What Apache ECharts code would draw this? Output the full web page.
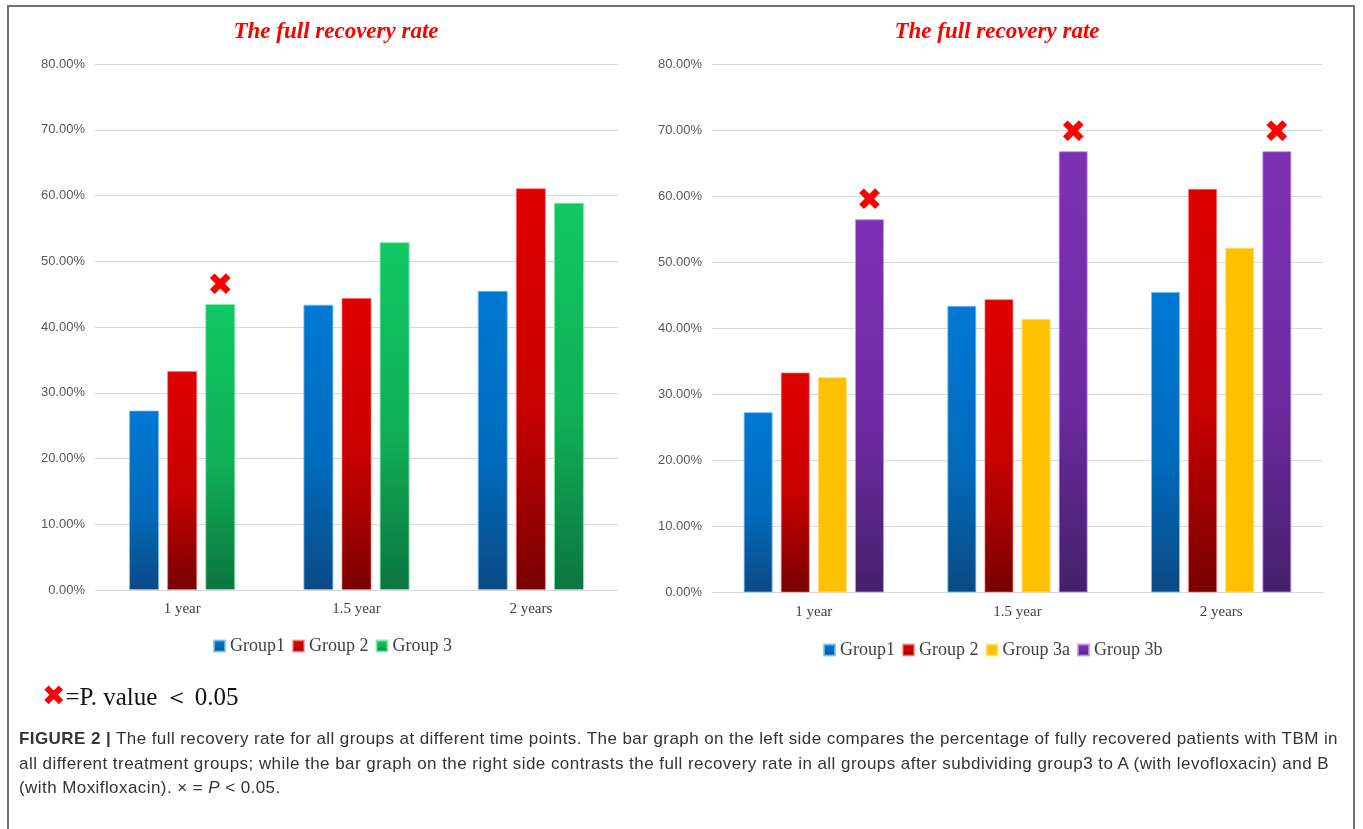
<!DOCTYPE html>
<html>
<head>
<meta charset="utf-8">
<script src="https://cdn.jsdelivr.net/npm/echarts@6/dist/echarts.min.js"></script>
<style>
  html, body { margin: 0; padding: 0; background: #fff; }
  #wrap { position: relative; width: 1363px; height: 829px; overflow: hidden; }
  #frame { position: absolute; left: 7px; top: 5px; width: 1348px; height: 840px; border: 2px solid #707070; box-sizing: border-box; }
  #chart { position: absolute; left: 0; top: 0; width: 1363px; height: 829px; }
  #note { position: absolute; left: 42px; top: 680px; font-family: 'Liberation Serif', serif; font-size: 25px; color: #111; white-space: nowrap; line-height: 32px; }
  #note .x { font-family: 'DejaVu Sans', sans-serif; color: #ff0000; font-size: 28px; }
  #caption { position: absolute; left: 19px; top: 727px; font-family: 'Liberation Sans', Arial, sans-serif; font-size: 17px; color: #333; line-height: 24.5px; white-space: nowrap; }
  #caption div { display: inline-block; }
</style>
</head>
<body>
<div id="wrap">
  <div id="frame"></div>
  <div id="chart"></div>
  <div id="note"><span class="x">✖</span>=P. value ＜ 0.05</div>
  <div id="caption">
    <div id="l1"><b>FIGURE 2 |</b> The full recovery rate for all groups at different time points. The bar graph on the left side compares the percentage of fully recovered patients with TBM in</div><br>
    <div id="l2">all different treatment groups; while the bar graph on the right side contrasts the full recovery rate in all groups after subdividing group3 to A (with levofloxacin) and B</div><br>
    <div id="l3">(with Moxifloxacin). × = <i>P</i> &lt; 0.05.</div>
  </div>
</div>
<script>
// ---- data ----
const chartTitle = 'The full recovery rate';
const categories = ['1 year', '1.5 year', '2 years'];
const yTicks = { min: 0, max: 80, interval: 10 };

const leftNames = ['Group1', 'Group 2', 'Group 3'];
const leftGroup1 = [27.3, 43.4, 45.5];
const leftGroup2 = [33.3, 44.4, 61.1];
const leftGroup3 = [43.5, 52.9, 58.9];
const leftSig3 = [true, false, false];

const rightNames = ['Group1', 'Group 2', 'Group 3a', 'Group 3b'];
const rightGroup1 = [27.3, 43.4, 45.5];
const rightGroup2 = [33.3, 44.4, 61.1];
const rightGroup3a = [32.6, 41.4, 52.2];
const rightGroup3b = [56.5, 66.8, 66.8];
const rightSig3b = [true, true, true];

// ---- caption fitting (line widths as in the figure) ----
(function fitCaption() {
  const targets = { l1: 1319, l2: 1310 };
  let ls = 0;
  ['l1', 'l2'].forEach(id => {
    const el = document.getElementById(id);
    const w = el.getBoundingClientRect().width;
    const n = el.textContent.length;
    const s = (targets[id] - w) / n;
    el.style.letterSpacing = s + 'px';
    if (id === 'l1') ls = s;
  });
  document.getElementById('l3').style.letterSpacing = ls + 'px';
})();

// ---- styles ----
const grad = (top, mid, bot) => new echarts.graphic.LinearGradient(0, 0, 0, 1, [
  { offset: 0, color: top }, { offset: 0.55, color: mid }, { offset: 1, color: bot }
]);
const colors = {
  'Group1': grad('#0078d4', '#006bbd', '#0a4a84'),
  'Group 2': grad('#e00000', '#c80000', '#780000'),
  'Group 3': grad('#10c864', '#0fb055', '#0c7440'),
  'Group 3a': '#ffc000',
  'Group 3b': grad('#7d30b4', '#6f2aa2', '#45206c')
};
const borders = {
  'Group1': 'rgba(120,190,245,0.8)',
  'Group 2': 'rgba(255,110,110,0.6)',
  'Group 3': 'rgba(120,240,170,0.8)',
  'Group 3a': 'rgba(255,220,120,0.8)',
  'Group 3b': 'rgba(190,150,230,0.8)'
};
const sigLabel = { show: true, position: 'top', distance: 2, formatter: '✖', color: '#ff0000', fontSize: 31, fontFamily: 'DejaVu Sans' };

function mkData(vals, sig) {
  return vals.map((v, i) => (sig && sig[i]) ? { value: v, label: sigLabel } : v);
}
function mkSeries(name, vals, idx, sig, bw, gap) {
  return {
    type: 'bar', name: name, xAxisIndex: idx, yAxisIndex: idx,
    data: mkData(vals, sig), barWidth: bw, barGap: gap,
    itemStyle: { color: colors[name], borderColor: borders[name], borderWidth: 1 },
    label: { show: false }, emphasis: { disabled: true }, animation: false
  };
}

const yAxisBase = (gi) => ({
  type: 'value', gridIndex: gi, min: yTicks.min, max: yTicks.max, interval: yTicks.interval,
  axisLine: { show: false }, axisTick: { show: false },
  axisLabel: { formatter: v => v.toFixed(2) + '%', color: '#595959', fontSize: 13, fontFamily: 'Liberation Sans', margin: 10 },
  splitLine: { lineStyle: { color: '#d9d9d9', width: 1.2 } }
});
const xAxisBase = (gi) => ({
  type: 'category', gridIndex: gi, data: categories,
  axisLine: { lineStyle: { color: '#d9d9d9', width: 1.2 } }, axisTick: { show: false },
  axisLabel: { color: '#404040', fontSize: 15, fontFamily: 'Liberation Serif', margin: 12 }
});
const titleStyle = { color: '#ff0000', fontSize: 23, fontStyle: 'italic', fontWeight: 'bold', fontFamily: 'Liberation Serif' };
const legendStyle = { color: '#404040', fontSize: 18, fontFamily: 'Liberation Serif' };

const chart = echarts.init(document.getElementById('chart'), null, { renderer: 'canvas' });
chart.setOption({
  animation: false,
  title: [
    { text: chartTitle, left: 331, top: 16, textAlign: 'center', textStyle: titleStyle },
    { text: chartTitle, left: 992, top: 16, textAlign: 'center', textStyle: titleStyle }
  ],
  legend: [
    { data: leftNames, left: 208, top: 632, icon: 'rect', itemWidth: 11, itemHeight: 11, itemGap: 7, selectedMode: false, textStyle: legendStyle },
    { data: rightNames, left: 818, top: 636, icon: 'rect', itemWidth: 11, itemHeight: 11, itemGap: 7, selectedMode: false, textStyle: legendStyle }
  ],
  grid: [
    { left: 95, right: 745, top: 64, bottom: 239 },
    { left: 712, right: 40, top: 64, bottom: 236.5 }
  ],
  xAxis: [xAxisBase(0), xAxisBase(1)],
  yAxis: [yAxisBase(0), yAxisBase(1)],
  series: [
    mkSeries('Group1', leftGroup1, 0, null, 30, '27%'),
    mkSeries('Group 2', leftGroup2, 0, null, 30, '27%'),
    mkSeries('Group 3', leftGroup3, 0, leftSig3, 30, '27%'),
    mkSeries('Group1', rightGroup1, 1, null, 29, '28%'),
    mkSeries('Group 2', rightGroup2, 1, null, 29, '28%'),
    mkSeries('Group 3a', rightGroup3a, 1, null, 29, '28%'),
    mkSeries('Group 3b', rightGroup3b, 1, rightSig3b, 29, '28%')
  ]
});
</script>
</body>
</html>
